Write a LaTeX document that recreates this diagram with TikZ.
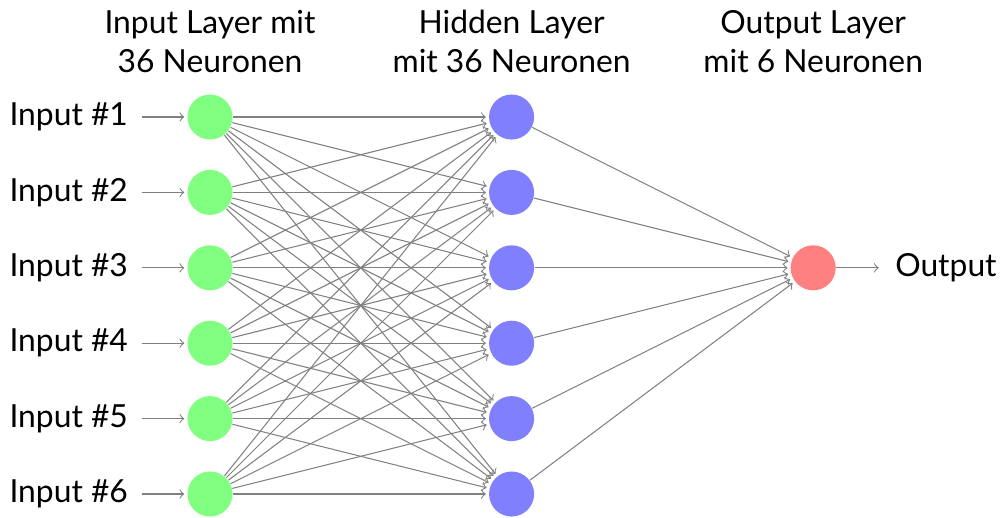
\documentclass[tikz,border=0pt,12pt]{standalone}
\usepackage{fontspec}
\setmainfont{Lato}
\usetikzlibrary{positioning}

\tikzset{
    neuron/.style={circle, fill=black!25, minimum size=17pt, inner sep=0pt},
    input neuron/.style={neuron, fill=green!50},
    hidden neuron/.style={neuron, fill=blue!50},
    output neuron/.style={neuron, fill=red!50},
    synapse/.style={->, draw=black!50, shorten >=1pt},
    iolabel/.style={inner sep=5pt},
    annot/.style={align=center},
}

\begin{document}
\begin{tikzpicture}
        \useasboundingbox (-2.785,-5.318) rectangle (10.531,1.552);
        % Draw input layer
        \foreach \y in {1,...,6} {
            \node[input neuron] (I-\y) at (0,1-\y) {};
            \node[iolabel, left=0.6cm of I-\y] (in-\y) {Input \#\y};
            \draw[synapse] (in-\y) -- (I-\y);
        }
        % Draw hidden layer
        \foreach \y in {1,...,6} {
            \node[hidden neuron] (H-\y) at (4,1-\y) {};
        }
        % Draw output layer
        \node[output neuron] (O) at (8,-2) {};
        \node[iolabel, right=0.6cm of O] (out) {Output};
        \draw[synapse] (O) -- (out);
        % Connect input and hidden layer
        \foreach \i in {1,...,6} {
            \foreach \j in {1,...,6} {
                \draw[synapse] (I-\i) -- (H-\j);
            }
        }
        % Connect hidden and output layer
        \foreach \j in {1,...,6} {
            \draw[synapse] (H-\j) -- (O);
        }
        % Layer captions
        \node[annot] (hl-I) at (0,1) {Input Layer mit\\36 Neuronen};
        \node[annot] (hl-H) at (4,1) {Hidden Layer\\mit 36 Neuronen};
        \node[annot] (hl-O) at (8,1) {Output Layer\\mit 6 Neuronen};
    \end{tikzpicture}
\end{document}
